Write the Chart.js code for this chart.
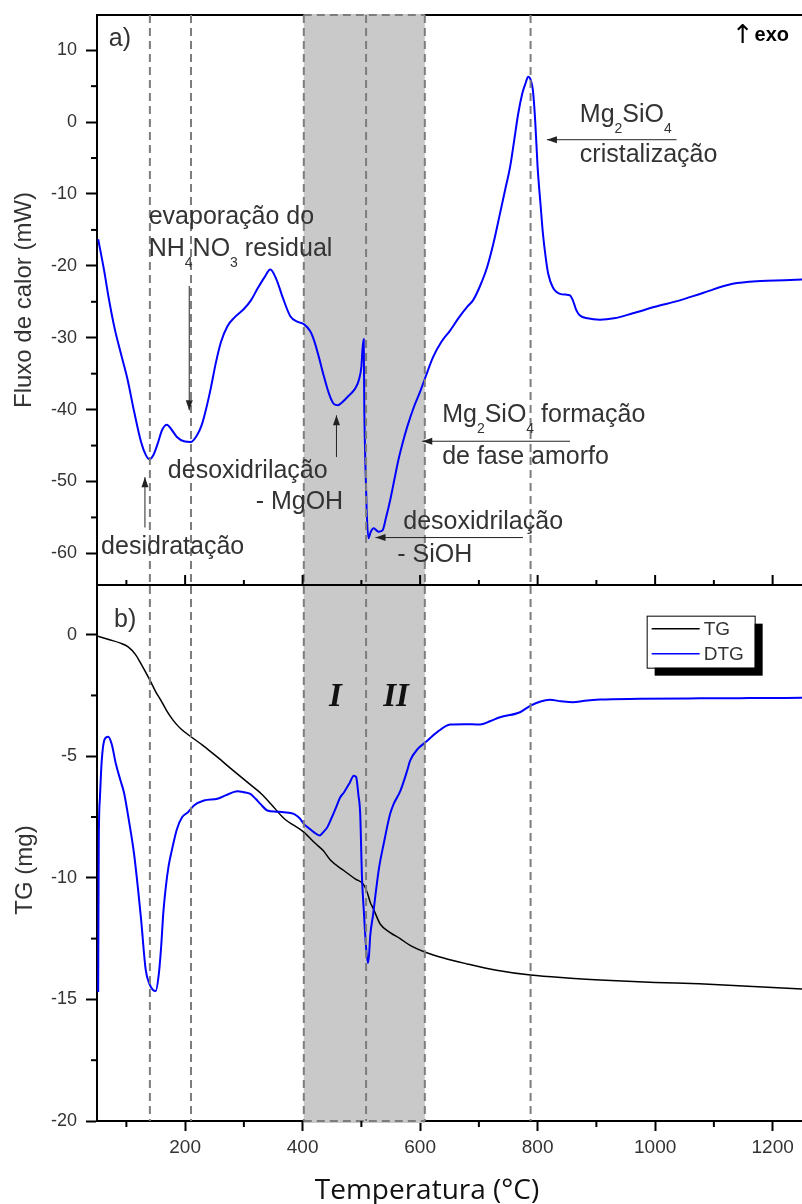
<!DOCTYPE html>
<html>
<head>
<meta charset="utf-8">
<script src="https://cdn.jsdelivr.net/npm/chart.js@4.4.0/dist/chart.umd.min.js"></script>
<style>
  html, body { margin: 0; padding: 0; background: #fff; }
  #wrap { position: relative; width: 802px; height: 1204px; }
  #dsc { position: absolute; left: 0; top: 0; width: 802px; height: 586px; }
  #tg { position: absolute; left: 0; top: 586px; width: 802px; height: 618px; }
</style>
</head>
<body>
<div id="wrap">
  <canvas id="dsc" width="802" height="586"></canvas>
  <canvas id="tg" width="802" height="618"></canvas>
</div>
<script>
// DSC curve (top panel)
const dscTemp = [52, 62, 70, 80, 90, 102, 113, 125, 133, 139,
  146, 153, 161, 169, 177, 186, 198, 210, 220, 228,
  236, 244, 252, 261, 272, 285, 300, 312, 323, 335,
  345, 355, 367, 379, 392, 402, 413, 420, 428, 436,
  445, 453, 460, 467, 478, 490, 496, 500, 502, 504,
  505, 507, 509, 512, 516, 521, 529, 536, 542, 549,
  556, 563, 570, 578, 590, 600, 609, 622, 636, 651,
  665, 680, 690, 702, 714, 725, 736, 745, 753, 760,
  767, 774, 779, 784, 788, 792, 796, 800, 805, 809,
  814, 818, 826, 838, 848, 855, 860, 866, 872, 885,
  906, 930, 962, 1000, 1042, 1080, 1132, 1180, 1220, 1250];
const dscFlow = [-16.3, -20.6, -24.5, -28.7, -32.0, -35.8, -40.2, -44.5, -46.3, -46.9,
  -46.3, -44.8, -42.8, -42.1, -42.8, -43.8, -44.4, -44.5, -43.6, -42.2,
  -39.8, -36.9, -33.6, -30.6, -28.4, -27.1, -26.0, -24.8, -23.2, -21.6,
  -20.5, -21.8, -24.6, -27.0, -27.8, -28.1, -29.1, -30.5, -32.8, -35.3,
  -37.8, -39.2, -39.4, -39.0, -38.1, -37.0, -35.8, -34.0, -31.5, -30.2,
  -40.0, -48.0, -54.0, -57.9, -57.0, -56.5, -57.0, -56.8, -55.0, -52.6,
  -49.8, -47.0, -44.7, -42.4, -39.5, -37.5, -35.5, -32.7, -30.6, -29.0,
  -27.3, -25.7, -24.8, -22.8, -20.2, -16.8, -12.7, -9.3, -6.3, -2.6,
  1.2, 4.0, 5.3, 6.3, 5.9, 4.4, 0.0, -6.3, -11.5, -15.5,
  -19.0, -21.1, -23.0, -23.9, -24.0, -24.1, -24.8, -26.2, -26.9, -27.3,
  -27.5, -27.3, -26.6, -25.7, -24.8, -23.8, -22.5, -22.1, -22.0, -21.9];

// TG curve (bottom panel)
const tgTemp = [50, 70, 90, 103, 115, 125, 133, 142, 150, 159,
  168, 176, 185, 193, 211, 230, 255, 280, 311, 330,
  346, 368, 402, 420, 435, 448, 470, 490, 503, 510,
  515, 520, 532, 549, 566, 583, 609, 640, 680, 730,
  788, 850, 906, 1000, 1075, 1150, 1250];
const tgMass = [-0.05, -0.2, -0.35, -0.5, -0.8, -1.2, -1.55, -1.96, -2.35, -2.71,
  -3.1, -3.4, -3.68, -3.88, -4.22, -4.55, -5.04, -5.55, -6.17, -6.55,
  -6.96, -7.55, -8.12, -8.55, -8.88, -9.29, -9.7, -10.05, -10.25, -10.6,
  -11.0, -11.25, -11.9, -12.25, -12.5, -12.78, -13.06, -13.3, -13.54, -13.8,
  -14.0, -14.12, -14.2, -14.3, -14.36, -14.45, -14.57];

// DTG curve (bottom panel)
const dtgTemp = [52, 53, 55, 58, 63, 69, 75, 82, 90, 96,
  104, 113, 120, 125, 133, 140, 145, 150, 155, 159,
  163, 167, 172, 178, 186, 195, 205, 215, 232, 255,
  270, 289, 300, 311, 320, 328, 340, 355, 368, 385,
  395, 402, 410, 419, 429, 436, 442, 450, 457, 464,
  470, 480, 487, 491, 495, 498, 501, 504, 508, 511,
  513, 515, 520, 524, 530, 538, 549, 555, 566, 578,
  583, 596, 609, 629, 651, 675, 702, 720, 736, 770,
  788, 805, 821, 840, 860, 880, 906, 974, 1075, 1160,
  1250];
const dtgRate = [-14.7, -8.6, -6.7, -5.2, -4.3, -4.2, -4.5, -5.3, -6.0, -6.5,
  -7.6, -9.0, -10.5, -11.7, -13.8, -14.4, -14.6, -14.65, -14.0, -12.9,
  -11.4, -10.4, -9.5, -8.8, -8.0, -7.5, -7.3, -7.03, -6.82, -6.75,
  -6.6, -6.44, -6.48, -6.55, -6.75, -6.96, -7.23, -7.28, -7.3, -7.37,
  -7.55, -7.78, -7.95, -8.12, -8.26, -8.1, -7.92, -7.5, -7.1, -6.69,
  -6.5, -6.1, -5.8, -5.85, -6.6, -7.37, -9.97, -11.3, -12.85, -13.5,
  -13.2, -12.4, -11.5, -10.7, -9.6, -8.6, -7.37, -6.96, -6.45, -5.59,
  -5.18, -4.7, -4.43, -4.01, -3.7, -3.68, -3.7, -3.55, -3.4, -3.19,
  -2.92, -2.75, -2.68, -2.74, -2.78, -2.72, -2.67, -2.64, -2.62, -2.61,
  -2.6];

// tick labels
const xTicks = [200, 400, 600, 800, 1000, 1200];
const dscTicks = [-60, -50, -40, -30, -20, -10, 0, 10];
const tgTicks = [-20, -15, -10, -5, 0];

// dashed event lines and the shaded region (°C)
const markerTemps = [140, 210, 402, 508, 608, 788];
const shadeRange = [402, 608];

const TXT = '#333';
const DASH = '#7d7d7d';
const SANS = '"Liberation Sans", Arial, sans-serif';
Chart.defaults.font.family = SANS;

const dscNotes = [
  { t: 'a)', x: 70, y: 11.6 },
  { t: 'evaporação do', x: 138, y: -13.25 },
  { t: 'NH_4NO_3 residual', x: 138, y: -17.7 },
  { t: 'desidratação', x: 57, y: -59.15 },
  { t: 'desoxidrilação', x: 170.6, y: -48.6 },
  { t: '- MgOH', x: 320, y: -52.9 },
  { t: 'desoxidrilação', x: 571.3, y: -55.7 },
  { t: '- SiOH', x: 561, y: -60.3 },
  { t: 'Mg_2SiO_4 formação', x: 637.5, y: -40.8 },
  { t: 'de fase amorfo', x: 637.5, y: -46.6 },
  { t: 'Mg_2SiO_4', x: 871.8, y: 0.93 },
  { t: 'cristalização', x: 871.8, y: -4.6 }
];
const dscArrows = [
  [207, -22.8, 207, -40.1],
  [131.6, -56.4, 131.6, -49.4],
  [457.6, -46.6, 457.6, -40.8],
  [775, -57.8, 524, -57.8],
  [855, -44.4, 603.6, -44.4],
  [1036.5, -2.45, 815.8, -2.45]
];

function toXY(xs, ys) {
  return xs.map((x, i) => ({ x: x, y: ys[i] }));
}

function fixedTicks(values) {
  return s => { s.ticks = values.map(v => ({ value: v })); };
}

// fixed axis box, no label overhang padding
function fitY(s) {
  s.width = 97;
  s.paddingTop = 0;
  s.paddingBottom = 0;
}
function fitX(s) {
  s.height = 83;
  s.paddingLeft = 0;
  s.paddingRight = 0;
}

// text with "_n" subscripts
function drawRich(ctx, text, x, y, size) {
  ctx.textBaseline = 'middle';
  ctx.textAlign = 'left';
  const parts = text.split(/_(.)/);
  let cx = x;
  parts.forEach((p, i) => {
    const sub = i % 2 === 1;
    ctx.font = (sub ? 14 : size) + 'px ' + SANS;
    ctx.fillText(p, cx, sub ? y + 14 : y);
    cx += ctx.measureText(p).width;
  });
}

function arrow(ctx, x1, y1, x2, y2) {
  const a = Math.atan2(y2 - y1, x2 - x1);
  ctx.strokeStyle = '#222';
  ctx.fillStyle = '#222';
  ctx.lineWidth = 1;
  ctx.setLineDash([]);
  ctx.beginPath();
  ctx.moveTo(x1, y1);
  ctx.lineTo(x2, y2);
  ctx.stroke();
  ctx.beginPath();
  ctx.moveTo(x2, y2);
  ctx.lineTo(x2 - 10 * Math.cos(a) + 3.5 * Math.sin(a), y2 - 10 * Math.sin(a) - 3.5 * Math.cos(a));
  ctx.lineTo(x2 - 10 * Math.cos(a) - 3.5 * Math.sin(a), y2 - 10 * Math.sin(a) + 3.5 * Math.cos(a));
  ctx.closePath();
  ctx.fill();
}

function hline(ctx, x1, x2, y) {
  ctx.beginPath();
  ctx.moveTo(x1, y);
  ctx.lineTo(x2, y);
  ctx.stroke();
}

function vline(ctx, x, y1, y2) {
  ctx.beginPath();
  ctx.moveTo(x, y1);
  ctx.lineTo(x, y2);
  ctx.stroke();
}

function panelPlugin(cfg) {
  return {
    id: 'panel',
    beforeDatasetsDraw(chart) {
      const { ctx, chartArea: a, scales: { x } } = chart;
      ctx.save();
      if (cfg.top) {
        ctx.strokeStyle = '#000';
        ctx.lineWidth = 2;
        hline(ctx, a.left, a.right, a.top);
      }
      const s0 = x.getPixelForValue(shadeRange[0]);
      const s1 = x.getPixelForValue(shadeRange[1]);
      ctx.fillStyle = '#c9c9c9';
      ctx.fillRect(s0, a.top - (cfg.top ? 1 : 0), s1 - s0, a.bottom - a.top + 2);
      ctx.strokeStyle = DASH;
      ctx.lineWidth = 2;
      ctx.setLineDash([8, 5]);
      hline(ctx, s0, s1, cfg.top ? a.top : a.bottom);
      ctx.restore();
    },
    afterDatasetsDraw(chart) {
      const { ctx, chartArea: a, scales: { x, y } } = chart;
      ctx.save();
      // dashed event lines over the curves
      ctx.strokeStyle = DASH;
      ctx.lineWidth = 2;
      ctx.setLineDash([8, 5]);
      markerTemps.forEach(t => vline(ctx, x.getPixelForValue(t), a.top, a.bottom));
      ctx.setLineDash([]);

      // minor ticks on the y axis
      ctx.strokeStyle = '#000';
      ctx.lineWidth = 2;
      for (let v = Math.ceil(y.min / cfg.minorY) * cfg.minorY; v <= y.max; v += cfg.minorY) {
        if (Math.abs(v % cfg.majorY) < 1e-6) continue;
        const py = y.getPixelForValue(v);
        hline(ctx, a.left - 6, a.left, py);
      }

      // x ticks: inward on the separator (top) or minor outward (bottom)
      for (let t = 100; t <= x.max; t += 100) {
        const px = x.getPixelForValue(t);
        const major = t % 200 === 0;
        if (cfg.top) {
          vline(ctx, px, a.bottom, a.bottom - (major ? 10 : 5));
        } else if (!major) {
          vline(ctx, px, a.bottom, a.bottom + 6);
        }
      }
      if (cfg.top) hline(ctx, a.left, a.right, a.bottom);

      cfg.draw(chart, ctx, a, x, y);
      ctx.restore();
    }
  };
}

function drawDscNotes(chart, ctx, a, x, y) {
  ctx.fillStyle = TXT;
  dscNotes.forEach(n => drawRich(ctx, n.t, x.getPixelForValue(n.x), y.getPixelForValue(n.y), 25));
  dscArrows.forEach(r => arrow(ctx, x.getPixelForValue(r[0]), y.getPixelForValue(r[1]),
    x.getPixelForValue(r[2]), y.getPixelForValue(r[3])));
  const ex = x.getPixelForValue(1228), ey = y.getPixelForValue(12.06);
  ctx.fillStyle = '#000';
  ctx.textBaseline = 'middle';
  ctx.textAlign = 'right';
  ctx.font = 'bold 20px ' + SANS;
  ctx.fillText('exo', ex, ey);
  const ew = ctx.measureText('exo').width;
  ctx.font = '26px "DejaVu Sans", sans-serif';
  ctx.fillText('↑', ex - ew - 1, ey + 1);
  // y axis title
  ctx.fillStyle = TXT;
  ctx.save();
  ctx.translate(31, (a.top + a.bottom) / 2);
  ctx.rotate(-Math.PI / 2);
  ctx.font = '24px ' + SANS;
  ctx.textAlign = 'center';
  ctx.textBaseline = 'alphabetic';
  ctx.fillText('Fluxo de calor (mW)', 0, 0);
  ctx.restore();
}

function drawTgNotes(chart, ctx, a, x, y) {
  ctx.fillStyle = TXT;
  drawRich(ctx, 'b)', x.getPixelForValue(79), y.getPixelForValue(0.6), 25);
  ctx.fillStyle = '#111';
  ctx.font = 'bold italic 33px "Liberation Serif", serif';
  ctx.textAlign = 'center';
  ctx.textBaseline = 'middle';
  ctx.fillText('I', x.getPixelForValue(456), y.getPixelForValue(-2.6));
  ctx.fillText('II', x.getPixelForValue(559), y.getPixelForValue(-2.6));

  // legend with drop shadow
  const lx = x.getPixelForValue(985.6), ly = y.getPixelForValue(0.78);
  const w = 108, h = 52;
  ctx.fillStyle = '#000';
  ctx.fillRect(lx + 8, ly + 8, w, h);
  ctx.fillStyle = '#fff';
  ctx.fillRect(lx, ly, w, h);
  ctx.strokeStyle = '#000';
  ctx.lineWidth = 1;
  ctx.strokeRect(lx + 0.5, ly + 0.5, w, h);
  chart.data.datasets.forEach((ds, i) => {
    const yy = ly + 13 + i * 25;
    ctx.strokeStyle = ds.borderColor;
    ctx.lineWidth = 1.5;
    hline(ctx, lx + 5, lx + 53, yy);
    ctx.fillStyle = TXT;
    ctx.font = '19px ' + SANS;
    ctx.textAlign = 'left';
    ctx.textBaseline = 'middle';
    ctx.fillText(ds.label, lx + 57, yy + 1);
  });

  // axis titles
  ctx.fillStyle = TXT;
  ctx.save();
  ctx.translate(32, 284);
  ctx.rotate(-Math.PI / 2);
  ctx.font = '24px ' + SANS;
  ctx.textAlign = 'center';
  ctx.textBaseline = 'alphabetic';
  ctx.fillText('TG (mg)', 0, 0);
  ctx.restore();
  ctx.fillStyle = '#111';
  ctx.font = '28px "Open Sans", sans-serif';
  ctx.textAlign = 'center';
  ctx.textBaseline = 'alphabetic';
  ctx.fillText('Temperatura (°C)', 427, 613);
}

const tickLabel = v => String(v);

const dscChart = new Chart(document.getElementById('dsc'), {
  type: 'line',
  data: {
    datasets: [{
      label: 'DSC',
      data: toXY(dscTemp, dscFlow),
      borderColor: '#0000ff',
      borderWidth: 2,
      pointRadius: 0,
      cubicInterpolationMode: 'monotone'
    }]
  },
  options: {
    responsive: false,
    animation: false,
    layout: { autoPadding: false, padding: { top: 15, bottom: 1, left: 0, right: 0 } },
    plugins: { legend: { display: false }, tooltip: { enabled: false } },
    scales: {
      x: { type: 'linear', min: 50, max: 1250, display: false },
      y: {
        type: 'linear', min: -64.4, max: 14.9,
        afterFit: fitY,
        afterBuildTicks: fixedTicks(dscTicks),
        ticks: { color: TXT, padding: 9, font: { size: 18 }, callback: tickLabel },
        grid: { drawOnChartArea: false, tickLength: 11, tickWidth: 2, tickColor: '#000' },
        border: { color: '#000', width: 2 }
      }
    }
  },
  plugins: [panelPlugin({ top: true, minorY: 5, majorY: 10, draw: drawDscNotes })]
});

const tgChart = new Chart(document.getElementById('tg'), {
  type: 'line',
  data: {
    datasets: [{
      label: 'TG',
      data: toXY(tgTemp, tgMass),
      borderColor: '#000000',
      borderWidth: 1.5,
      pointRadius: 0,
      cubicInterpolationMode: 'monotone',
      order: 2
    }, {
      label: 'DTG',
      data: toXY(dtgTemp, dtgRate),
      borderColor: '#0000ff',
      borderWidth: 2,
      pointRadius: 0,
      cubicInterpolationMode: 'monotone',
      order: 1
    }]
  },
  options: {
    responsive: false,
    animation: false,
    layout: { autoPadding: false, padding: 0 },
    plugins: { legend: { display: false }, tooltip: { enabled: false } },
    scales: {
      x: {
        type: 'linear', min: 50, max: 1250,
        afterFit: fitX,
        afterBuildTicks: fixedTicks(xTicks),
        ticks: { color: TXT, padding: 5, font: { size: 19 }, callback: tickLabel, maxRotation: 0 },
        grid: { drawOnChartArea: false, tickLength: 10, tickWidth: 2, tickColor: '#000' },
        border: { color: '#000', width: 2 }
      },
      y: {
        type: 'linear', min: -20, max: 2,
        afterFit: fitY,
        afterBuildTicks: fixedTicks(tgTicks),
        ticks: { color: TXT, padding: 9, font: { size: 18 }, callback: tickLabel },
        grid: { drawOnChartArea: false, tickLength: 11, tickWidth: 2, tickColor: '#000' },
        border: { color: '#000', width: 2 }
      }
    }
  },
  plugins: [panelPlugin({ top: false, minorY: 2.5, majorY: 5, draw: drawTgNotes })]
});
</script>
</body>
</html>
